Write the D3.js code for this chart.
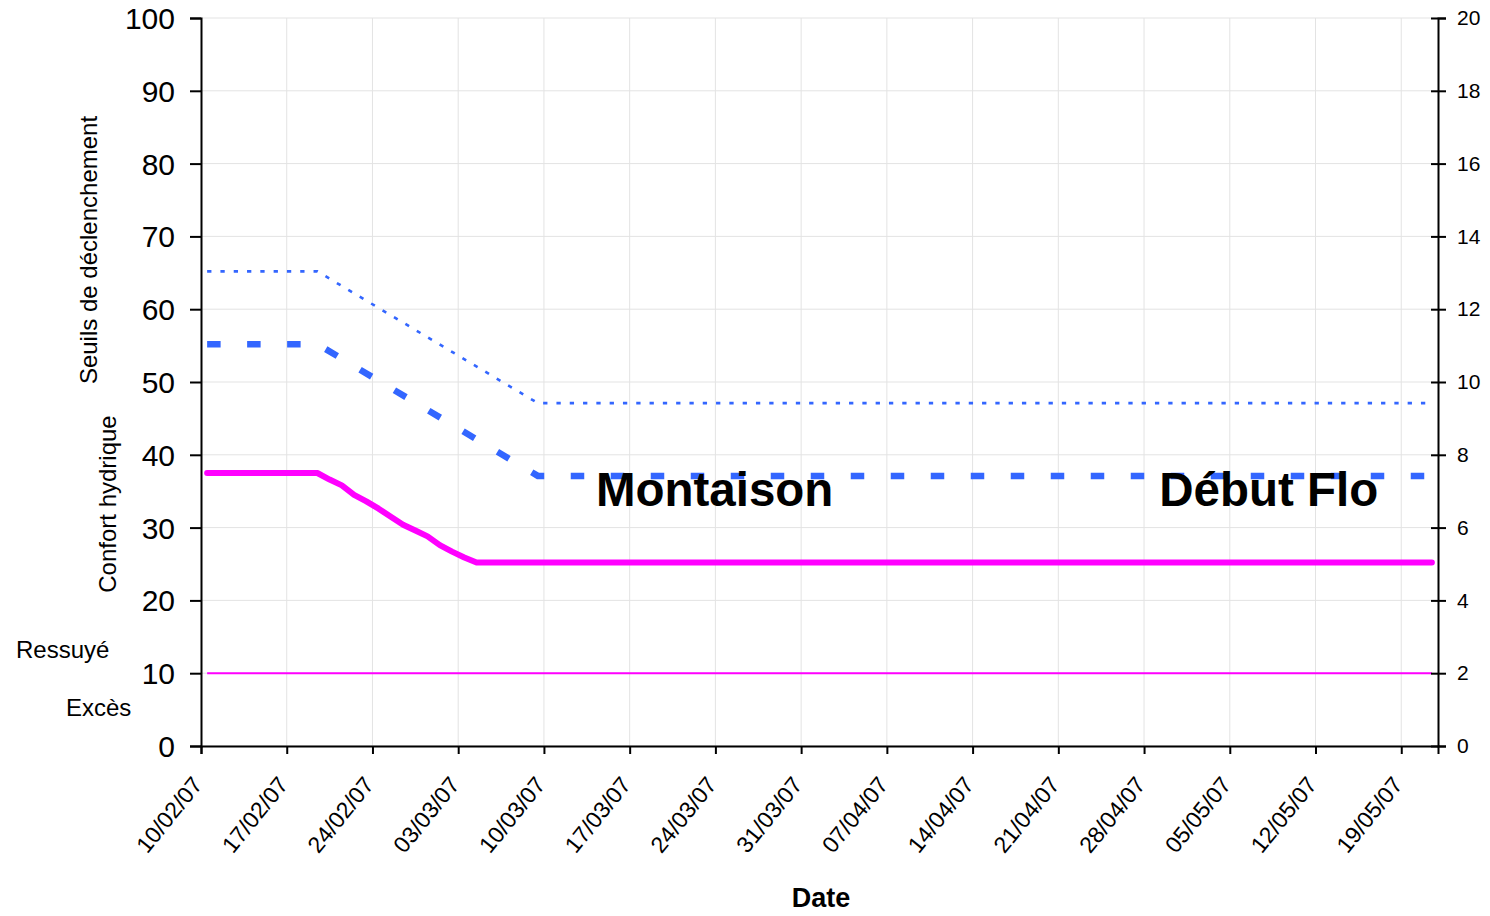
<!DOCTYPE html>
<html>
<head>
<meta charset="utf-8">
<script src="https://cdn.jsdelivr.net/npm/d3@7"></script>
<style>
  body { margin: 0; background: #fff; }
  text { font-family: "Liberation Sans", Arial, sans-serif; fill: #000; }
</style>
</head>
<body>
<svg width="1490" height="916"></svg>
<script>
// data
const confortDates = ['10/02/07','19/02/07','20/02/07','21/02/07','22/02/07','23/02/07','24/02/07','25/02/07',
    '26/02/07','27/02/07','28/02/07','01/03/07','02/03/07','03/03/07','04/03/07','21/05/07'];
const confortValues = [37.5, 37.5, 36.6, 35.8, 34.5, 33.6, 32.6, 31.5, 30.4, 29.6, 28.8, 27.6, 26.7, 25.9, 25.2, 25.2];

const seuilDates = ['10/02/07', '19/02/07', '09/03/07', '21/05/07'];
const seuilBas = [55.2, 55.2, 37.1, 37.1];
const seuilHaut = [65.2, 65.2, 47.1, 47.1];

const ressuyeDates = ['10/02/07', '21/05/07'];
const ressuyeValues = [10, 10];

const xTickDates = ['10/02/07','17/02/07','24/02/07','03/03/07','10/03/07','17/03/07','24/03/07',
    '31/03/07','07/04/07','14/04/07','21/04/07','28/04/07','05/05/07','12/05/07','19/05/07'];
const leftTicks = [0, 10, 20, 30, 40, 50, 60, 70, 80, 90, 100];
const rightTicks = [0, 2, 4, 6, 8, 10, 12, 14, 16, 18, 20];

const stages = [{label: 'Montaison', date: '14/03/07'}, {label: 'Début Flo', date: '29/04/07'}];

const parse = d3.timeParse('%d/%m/%y');
// points sit in the middle of the day, like the Excel date axis
const mid = s => d3.timeHour.offset(parse(s), 12);

const svg = d3.select('svg');
const margin = {left: 201, top: 18, right: 52, bottom: 170};
const W = 1490 - margin.left - margin.right,
      H = 916 - margin.top - margin.bottom;

const x = d3.scaleTime().domain([parse('10/02/07'), parse('22/05/07')]).range([0, W]);
const y = d3.scaleLinear().domain([0, 100]).range([H, 0]);
const y2 = d3.scaleLinear().domain([0, 20]).range([H, 0]);

const g = svg.append('g').attr('transform', `translate(${margin.left},${margin.top})`);

// grid
g.append('g').selectAll('line').data(leftTicks).enter().append('line')
    .attr('x1', 0).attr('x2', W).attr('y1', d => y(d)).attr('y2', d => y(d))
    .style('stroke', '#e3e3e3').style('stroke-width', 1);
g.append('g').selectAll('line').data(xTickDates.slice(1)).enter().append('line')
    .attr('x1', d => x(parse(d))).attr('x2', d => x(parse(d)))
    .attr('y1', 0).attr('y2', H)
    .style('stroke', '#e3e3e3').style('stroke-width', 1);

// series
const line = d3.line().x(d => x(mid(d[0]))).y(d => y(d[1]));

g.append('path').datum(d3.zip(ressuyeDates, ressuyeValues))
    .attr('d', line).attr('fill', 'none')
    .style('stroke', '#ff00ff').style('stroke-width', 2);

g.append('path').datum(d3.zip(seuilDates, seuilHaut))
    .attr('d', line).attr('fill', 'none')
    .style('stroke', '#3366ff').style('stroke-width', 2.6)
    .style('stroke-dasharray', '4.3,9');

g.append('path').datum(d3.zip(seuilDates, seuilBas))
    .attr('d', line).attr('fill', 'none')
    .style('stroke', '#3366ff').style('stroke-width', 6.5)
    .style('stroke-dasharray', '13.5,26.5');

g.append('path').datum(d3.zip(confortDates, confortValues))
    .attr('d', line).attr('fill', 'none')
    .style('stroke', '#ff00ff').style('stroke-width', 6)
    .style('stroke-linecap', 'round').style('stroke-linejoin', 'round');

// stage labels
g.selectAll('.stage').data(stages).enter().append('text')
    .attr('class', 'stage')
    .attr('x', d => x(parse(d.date)) + 3)
    .attr('y', y(33))
    .style('font-size', '47.5px').style('font-weight', 'bold')
    .text(d => d.label);

// left axis
const yAxis = g.append('g')
    .call(d3.axisLeft(y).tickValues(leftTicks).tickSize(11).tickPadding(15));
yAxis.select('.domain').style('stroke-width', 2);
yAxis.selectAll('.tick line').style('stroke-width', 2);
yAxis.selectAll('.tick text').style('font-size', '30px').attr('dy', '0.35em');

// right axis
const y2Axis = g.append('g').attr('transform', `translate(${W},0)`)
    .call(d3.axisRight(y2).tickValues(rightTicks).tickSize(8).tickPadding(11));
y2Axis.select('.domain').style('stroke-width', 2);
y2Axis.selectAll('.tick line').attr('x1', -7).style('stroke-width', 2);
y2Axis.selectAll('.tick text').style('font-size', '21px');

// x axis
const xAxis = g.append('g').attr('transform', `translate(0,${H})`)
    .call(d3.axisBottom(x).tickValues(xTickDates.map(parse)).tickSize(8)
        .tickFormat(d3.timeFormat('%d/%m/%y')));
xAxis.select('.domain').style('stroke-width', 2);
xAxis.selectAll('.tick line').style('stroke-width', 2);
xAxis.selectAll('.tick text')
    .style('font-size', '23px').style('text-anchor', 'end')
    .attr('dy', null).attr('y', 0)
    .attr('transform', 'translate(2,39) rotate(-51)');

// titles
svg.append('text').attr('x', 821).attr('y', 907)
    .style('font-size', '27px').style('font-weight', 'bold')
    .style('text-anchor', 'middle').text('Date');

svg.append('text')
    .attr('transform', 'translate(97,250) rotate(-90)')
    .style('font-size', '24px').style('text-anchor', 'middle')
    .text('Seuils de déclenchement');
svg.append('text')
    .attr('transform', 'translate(116,504) rotate(-90)')
    .style('font-size', '24px').style('text-anchor', 'middle')
    .text('Confort hydrique');

svg.append('text').attr('x', 16).attr('y', 658)
    .style('font-size', '24px').text('Ressuyé');
svg.append('text').attr('x', 66).attr('y', 716)
    .style('font-size', '24px').text('Excès');
</script>
</body>
</html>
